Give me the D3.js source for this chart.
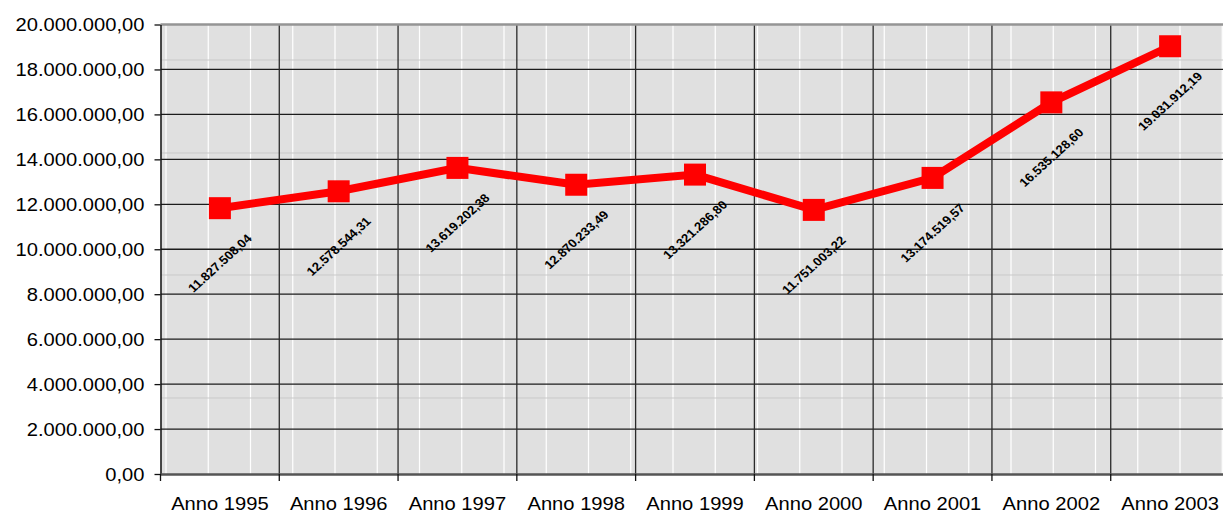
<!DOCTYPE html>
<html>
<head>
<meta charset="utf-8">
<script src="https://cdn.jsdelivr.net/npm/d3@7"></script>
<style>
  body { margin: 0; background: #fff; }
  svg { display: block; font-family: "Liberation Sans", Arial, sans-serif; }
</style>
</head>
<body>
<script>
// chart data
var categories = ['Anno 1995', 'Anno 1996', 'Anno 1997', 'Anno 1998', 'Anno 1999',
                  'Anno 2000', 'Anno 2001', 'Anno 2002', 'Anno 2003'];
var values = [11827508.04, 12578544.31, 13619202.38, 12870233.49, 13321286.80,
              11751003.22, 13174519.57, 16535128.60, 19031912.19];
var yTicks = [0, 2e6, 4e6, 6e6, 8e6, 10e6, 12e6, 14e6, 16e6, 18e6, 20e6];

var W = 1223, H = 514;
// note: "top" is taken by window.top, so plot edges get a p prefix
var pLeft = 160.5, pRight = 1229.5, pTop = 24.5, pBottom = 474;
var stretch = 1.12; // the reference text looks a bit wide

// italian number format: 11.827.508,04
var it = d3.formatLocale({decimal: ',', thousands: '.', grouping: [3], currency: ['', ' €']});
var fmt = it.format(',.2f');

var x = d3.scaleBand().domain(categories).range([pLeft, pRight]);
var y = d3.scaleLinear().domain([0, 20e6]).range([pBottom, pTop]);

var svg = d3.select('body').append('svg').attr('width', W).attr('height', H);

var clip = svg.append('defs').append('clipPath').attr('id', 'plotclip');
clip.append('rect').attr('x', pLeft).attr('y', pTop).attr('width', pRight - pLeft).attr('height', pBottom - pTop);

// plot background
svg.append('rect')
  .attr('x', pLeft).attr('y', pTop)
  .attr('width', pRight - pLeft).attr('height', pBottom - pTop)
  .attr('fill', '#e0e0e0');

var deco = svg.append('g').attr('clip-path', 'url(#plotclip)');

// light texture lines seen in the background
d3.range(0, 26).forEach(function(i){
  var xx = 166 + i * 42.25;
  deco.append('line')
    .attr('x1', xx).attr('x2', xx).attr('y1', pTop).attr('y2', pBottom)
    .attr('stroke', '#fff').attr('stroke-width', 1.2);
});
[60, 153, 275, 398].forEach(function(yy){
  deco.append('line')
    .attr('x1', pLeft).attr('x2', pRight).attr('y1', yy).attr('y2', yy)
    .attr('stroke', '#c9c9c9').attr('stroke-width', 1);
});

// horizontal grid
var grid = svg.append('g').attr('clip-path', 'url(#plotclip)');
grid.selectAll('line.h')
  .data(yTicks.slice(1, -1))
  .enter().append('line')
  .attr('class', 'h')
  .attr('x1', pLeft).attr('x2', pRight)
  .attr('y1', function(d){ return y(d); })
  .attr('y2', function(d){ return y(d); })
  .attr('stroke', '#1c1c1c').attr('stroke-width', 1.3);

// vertical grid at category boundaries
grid.selectAll('line.v')
  .data(categories.slice(1))
  .enter().append('line')
  .attr('class', 'v')
  .attr('x1', function(d){ return x(d); })
  .attr('x2', function(d){ return x(d); })
  .attr('y1', pTop).attr('y2', pBottom)
  .attr('stroke', '#2a2a2a').attr('stroke-width', 1.3);

// top border
svg.append('line')
  .attr('x1', pLeft).attr('x2', pRight).attr('y1', pTop).attr('y2', pTop)
  .attr('stroke', '#959595').attr('stroke-width', 2.5);

// y axis
var yAxis = svg.append('g')
  .attr('transform', 'translate(' + pLeft + ',0)')
  .call(d3.axisLeft(y).tickValues(yTicks).tickFormat(fmt).tickSize(6).tickSizeOuter(0));
yAxis.select('.domain').attr('stroke', '#111').attr('stroke-width', 1.5);
yAxis.selectAll('.tick line').attr('stroke', '#111').attr('stroke-width', 1.3);
yAxis.selectAll('.tick text')
  .attr('x', -16 / stretch)
  .attr('dy', '0.35em')
  .attr('transform', 'scale(' + stretch + ',1)')
  .attr('font-size', 18)
  .attr('fill', '#000');

// x axis
var xAxis = svg.append('g')
  .attr('transform', 'translate(0,' + pBottom + ')')
  .call(d3.axisBottom(x).tickSize(0).tickSizeOuter(0));
xAxis.select('.domain').attr('stroke', '#555').attr('stroke-width', 2.5);
xAxis.selectAll('.tick text')
  .attr('y', 0).attr('dy', 0)
  .attr('transform', 'translate(0,36) scale(' + stretch + ',1)')
  .attr('font-size', 18)
  .attr('fill', '#000');

// x tick marks at band boundaries
xAxis.selectAll('line.bnd')
  .data(categories)
  .enter().append('line')
  .attr('class', 'bnd')
  .attr('x1', function(d){ return x(d); })
  .attr('x2', function(d){ return x(d); })
  .attr('y1', 0).attr('y2', 7)
  .attr('stroke', '#111').attr('stroke-width', 1.3);

// series
var pts = categories.map(function(c, i){ return {cat: c, v: values[i]}; });
var cx = function(d){ return x(d.cat) + x.bandwidth() / 2; };

var line = d3.line().x(cx).y(function(d){ return y(d.v); });

svg.append('path')
  .datum(pts)
  .attr('d', line)
  .attr('fill', 'none')
  .attr('stroke', '#ff0000')
  .attr('stroke-width', 8)
  .attr('stroke-linejoin', 'miter');

var ms = 22;
svg.selectAll('rect.mk')
  .data(pts)
  .enter().append('rect')
  .attr('class', 'mk')
  .attr('x', function(d){ return cx(d) - ms / 2; })
  .attr('y', function(d){ return y(d.v) - ms / 2; })
  .attr('width', ms).attr('height', ms)
  .attr('fill', '#ff0000');

// value labels, rotated
svg.selectAll('text.lbl')
  .data(pts)
  .enter().append('text')
  .attr('class', 'lbl')
  .attr('transform', function(d){
    return 'translate(' + cx(d) + ',' + (y(d.v) + 55) + ') scale(1.1,1) rotate(-45)';
  })
  .attr('text-anchor', 'middle')
  .attr('dy', '0.35em')
  .attr('font-size', 12)
  .attr('font-weight', 'bold')
  .attr('fill', '#000')
  .text(function(d){ return fmt(d.v); });
</script>
</body>
</html>
